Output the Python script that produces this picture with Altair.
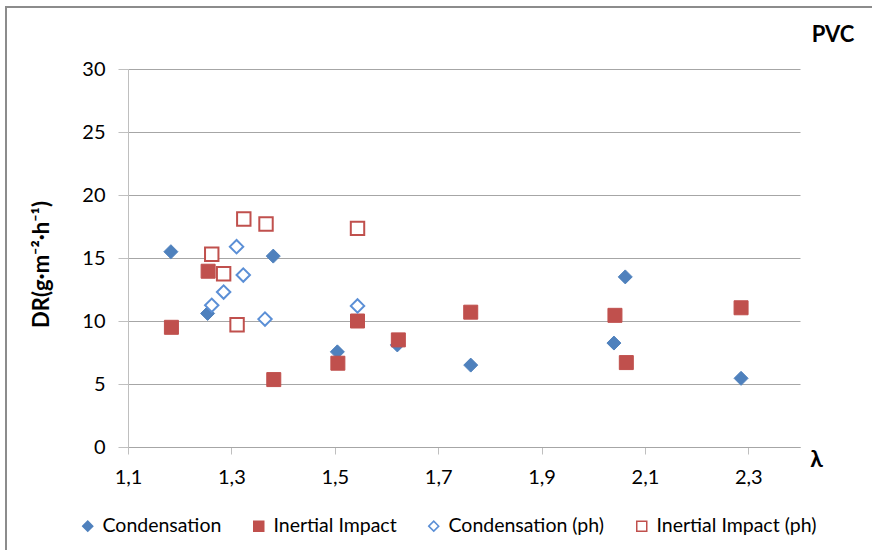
import altair as alt
import pandas as pd

# Deposition rate DR (g·m⁻²·h⁻¹) against λ for PVC
series_names = ["Condensation", "Inertial Impact", "Condensation (ph)", "Inertial Impact (ph)"]

cond_x = [1.183, 1.254, 1.381, 1.505, 1.621, 1.763, 2.040, 2.062, 2.286]
cond_y = [15.5, 10.6, 15.15, 7.55, 8.1, 6.5, 8.25, 13.5, 5.45]

imp_x = [1.184, 1.255, 1.382, 1.506, 1.544, 1.623, 1.763, 2.042, 2.064, 2.286]
imp_y = [9.5, 13.95, 5.35, 6.65, 10.0, 8.5, 10.7, 10.45, 6.7, 11.05]

cond_ph_x = [1.262, 1.285, 1.310, 1.323, 1.365, 1.544]
cond_ph_y = [11.25, 12.3, 15.9, 13.65, 10.15, 11.2]

imp_ph_x = [1.262, 1.285, 1.311, 1.324, 1.367, 1.544]
imp_ph_y = [15.3, 13.75, 9.7, 18.1, 17.7, 17.35]

x_ticks = [1.1, 1.3, 1.5, 1.7, 1.9, 2.1, 2.3]
y_ticks = [0, 5, 10, 15, 20, 25, 30]

shapes = ["diamond", "square", "diamond", "square"]
fills = ["#4F81BD", "#C0504D", "#FFFFFF", "#FFFFFF"]
strokes = ["#4F81BD", "#C0504D", "#5B8FD6", "#C0504D"]

FONT = "Lato"


def frame(xs, ys, name):
    return pd.DataFrame({"lam": xs, "dr": ys, "series": name})


filled_df = pd.concat([
    frame(cond_x, cond_y, series_names[0]),
    frame(imp_x, imp_y, series_names[1]),
], ignore_index=True)

open_df = pd.concat([
    frame(cond_ph_x, cond_ph_y, series_names[2]),
    frame(imp_ph_x, imp_ph_y, series_names[3]),
], ignore_index=True)

x_enc = alt.X(
    "lam:Q",
    scale=alt.Scale(domain=[1.1, 2.4], nice=False, zero=False),
    axis=alt.Axis(
        values=x_ticks,
        labelExpr="replace(format(datum.value, '.1f'), '.', ',')",
        grid=False,
        title="λ",
        titleFont=FONT,
        titleFontSize=23,
        titleFontWeight="bold",
        titleX=688,
        titleY=12,
        titleAlign="center",
        titleBaseline="middle",
        labelFont=FONT,
        labelFontSize=20,
        labelColor="#000000",
        labelPadding=13,
        tickSize=7,
        tickColor="#BFBFBF",
        domainColor="#A6A6A6",
        labelFlush=False,
    ),
)

y_enc = alt.Y(
    "dr:Q",
    scale=alt.Scale(domain=[0, 30], nice=False),
    axis=alt.Axis(
        values=y_ticks,
        grid=True,
        gridColor="#A6A6A6",
        gridWidth=1,
        title="DR(g·m⁻²·h⁻¹)",
        titleFont=FONT,
        titleFontSize=22,
        titleFontWeight="bold",
        titleX=-87,
        titleY=195,
        titleAlign="center",
        titleBaseline="middle",
        titleAngle=270,
        labelFont=FONT,
        labelFontSize=20,
        labelColor="#000000",
        labelPadding=13,
        tickSize=10,
        tickColor="#BFBFBF",
        domainColor="#BFBFBF",
    ),
)

legend = alt.Legend(
    title=None,
    orient="none",
    direction="horizontal",
    legendX=-50,
    legendY=447,
    labelFont=FONT,
    labelFontSize=19.5,
    labelColor="#000000",
    symbolSize=100,
    symbolStrokeWidth=1.5,
    labelOffset=5,
    columnPadding=27,
    padding=0,
)

shape_enc = alt.Shape("series:N", scale=alt.Scale(domain=series_names, range=shapes), legend=legend)
fill_enc = alt.Fill("series:N", scale=alt.Scale(domain=series_names, range=fills), legend=legend)
stroke_enc = alt.Stroke("series:N", scale=alt.Scale(domain=series_names, range=strokes), legend=legend)

filled_pts = alt.Chart(filled_df).mark_point(
    filled=True, opacity=1, size=196, strokeWidth=1
).encode(x=x_enc, y=y_enc, shape=shape_enc, fill=fill_enc, stroke=stroke_enc)

open_pts = alt.Chart(open_df).mark_point(
    filled=True, opacity=1, size=180, strokeWidth=2
).encode(x=x_enc, y=y_enc, shape=shape_enc, fill=fill_enc, stroke=stroke_enc)

label_df = pd.DataFrame({"t": ["PVC"]})
pvc = alt.Chart(label_df).mark_text(
    font=FONT, fontSize=22, fontWeight="bold", color="#000000", align="center", baseline="middle"
).encode(text="t:N", x=alt.value(705), y=alt.value(-34))

border = alt.Chart(label_df).mark_rect(
    fill="transparent", stroke="#8C8C8C", strokeWidth=2
).encode(x=alt.value(-122), x2=alt.value(800), y=alt.value(-62), y2=alt.value(600))

chart = alt.layer(border, filled_pts, open_pts, pvc).properties(
    width=672,
    height=378,
    autosize=alt.AutoSizeParams(type="none"),
    padding={"left": 128, "top": 69, "right": 72, "bottom": 103},
    background="#FFFFFF",
).configure_view(strokeWidth=0)

chart.save("out.html", embed_options={"renderer": "svg", "actions": False})
